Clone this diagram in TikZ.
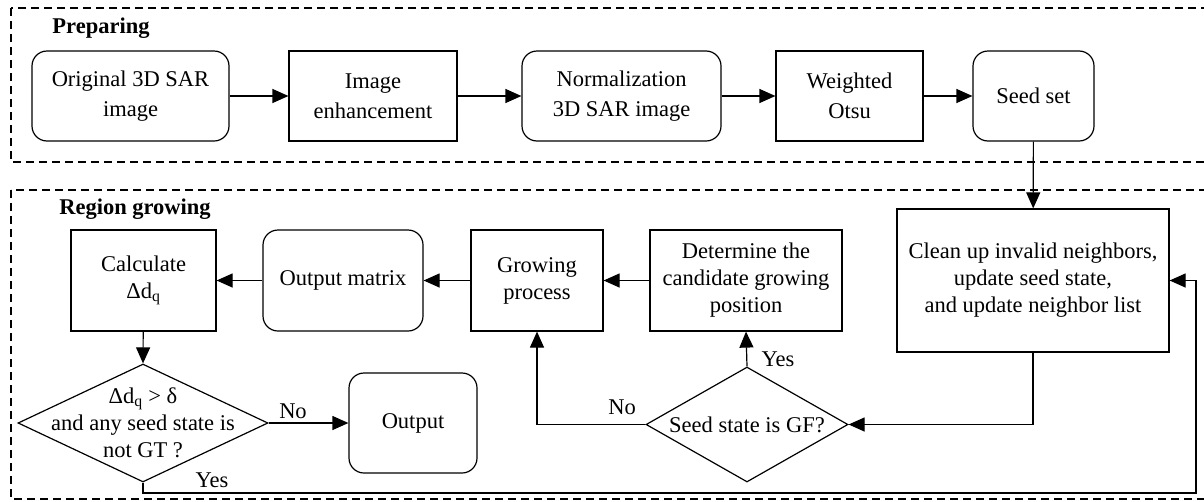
\documentclass[tikz,border=0pt]{standalone}
\usepackage{fontspec}
\setmainfont{Liberation Serif}
\usetikzlibrary{arrows.meta,shapes.geometric}
\tikzset{
  box/.style={draw, line width=1.2pt, inner sep=0pt, align=center, font=\fontsize{22.5}{27}\selectfont},
  topbox/.style={box, minimum height=90pt, font=\fontsize{22.5}{30}\selectfont},
  rbox/.style={rounded corners=15pt},
  dia/.style={draw, diamond, line width=1.2pt, inner sep=0pt},
  lbl/.style={align=center, inner sep=0pt, font=\fontsize{22.5}{27}\selectfont},
  arr/.style={line width=1.2pt, -{Triangle[length=16pt,width=14pt]}},
  ln/.style={line width=1.2pt},
  frame/.style={line width=1.2pt, dash pattern=on 8pt off 5pt},
  ttl/.style={inner sep=0pt, font=\fontsize{22.5}{27}\selectfont\bfseries}
}
\begin{document}
\begin{tikzpicture}[x=1pt,y=-1pt]
\useasboundingbox (0,0) rectangle (1204,501);
\fill[white] (0,0) rectangle (1204,501);
% frames
\draw[frame] (11,8) rectangle (1210,162);
\draw[frame] (11,190) rectangle (1210,499);
\node[ttl] (tprep) at (101,28) {Preparing};
\node[ttl] (tgrow) at (135,209) {Region growing};
% top row
\node[topbox, rbox, minimum width=197pt] (orig) at (130.5,96) {Original 3D SAR\\image};
\node[topbox, minimum width=168pt] (enh) at (373,96) {Image\\enhancement};
\node[topbox, rbox, minimum width=199pt] (norm) at (621.5,96) {Normalization\\3D SAR image};
\node[topbox, minimum width=147pt] (otsu) at (849.5,96) {Weighted\\Otsu};
\node[topbox, rbox, minimum width=121pt] (seed) at (1033.5,96) {Seed set};
% bottom part
\node[box, minimum width=272pt, minimum height=143pt] (clean) at (1033,280.5) {Clean up invalid neighbors,\\update seed state,\\and update neighbor list};
\node[box, minimum width=192pt, minimum height=101pt] (det) at (746,280.5) {Determine the\\candidate growing\\position};
\node[box, minimum width=132pt, minimum height=101pt] (grow) at (537,280.5) {Growing\\process};
\node[box, rbox, minimum width=160pt, minimum height=101pt] (outm) at (343,280.5) {Output matrix};
\node[box, minimum width=145pt, minimum height=101pt] (calc) at (143.5,280.5) {Calculate\\Δd\textsubscript{q}};
\node[dia, minimum width=250pt, minimum height=118pt] (dia1) at (143,423) {};
\node[lbl] (dia1t) at (143,423) {Δd\textsubscript{q} > δ\\and any seed state is\\not GT ?};
\node[box, rbox, minimum width=128pt, minimum height=100pt] (out) at (413,423) {Output};
\node[dia, minimum width=202pt, minimum height=115pt] (dia2) at (747,424.5) {};
\node[lbl] (dia2t) at (747,424.5) {Seed state is GF?};
\coordinate (c1) at (1196,493);
% connectors
\draw[arr] (orig) -- (enh);
\draw[arr] (enh) -- (norm);
\draw[arr] (norm) -- (otsu);
\draw[arr] (otsu) -- (seed);
\draw[arr] (seed) -- (clean);
\draw[arr] (clean.south) |- (dia2.east);
\draw[arr] (dia2.north) -- (det.south);
\draw[arr] (dia2.west) -| (grow.south);
\draw[arr] (det) -- (grow);
\draw[arr] (grow) -- (outm);
\draw[arr] (outm) -- (calc);
\draw[arr] (calc) -- (dia1.north);
\draw[arr] (dia1.east) -- (out);
\draw[arr] (dia1.south) |- (c1) |- (clean.east);
% labels
\node[lbl] (no1) at (293,411) {No};
\node[lbl] (yes1) at (212,480) {Yes};
\node[lbl] (no2) at (622,407) {No};
\node[lbl] (yes2) at (778,359) {Yes};
\end{tikzpicture}
\end{document}
